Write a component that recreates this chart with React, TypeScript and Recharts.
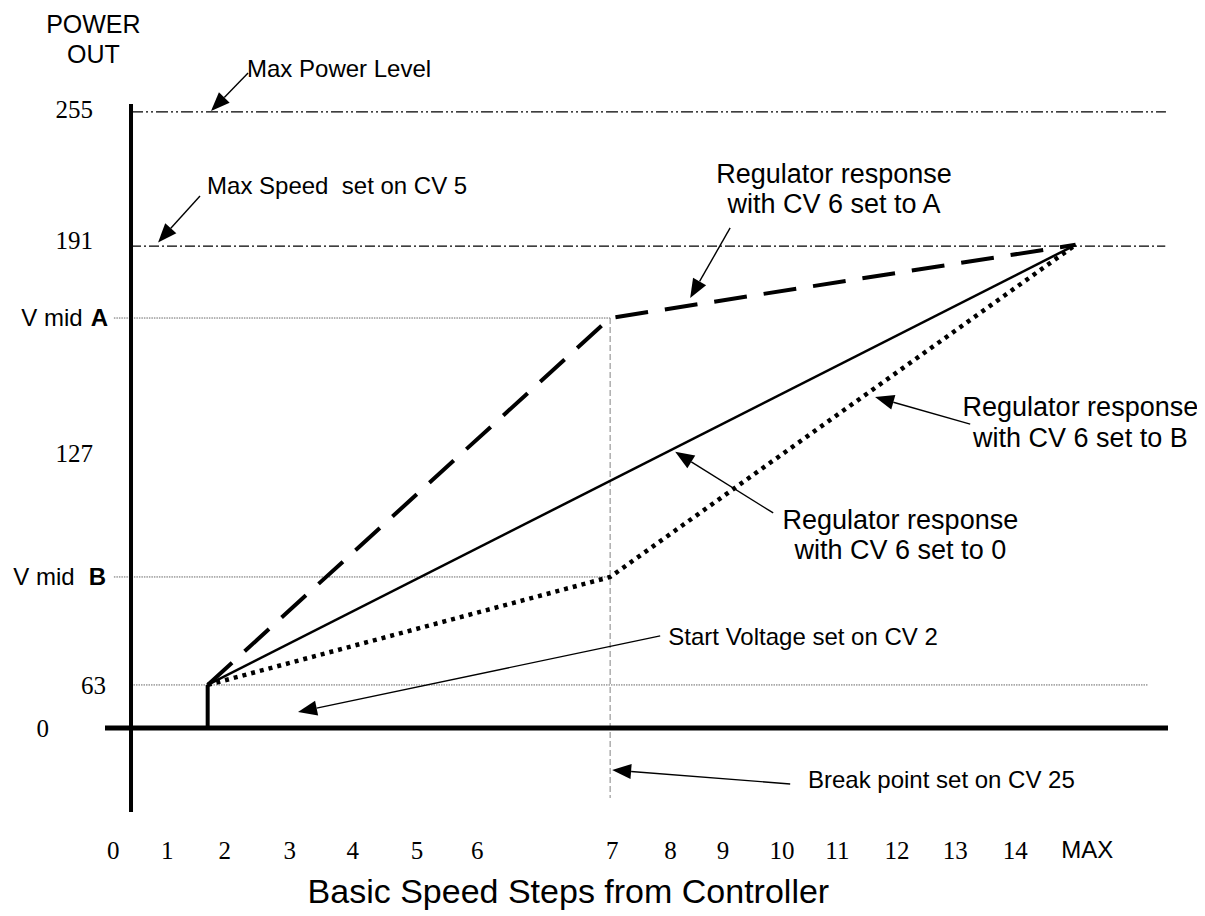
import React from "react";
import { LineChart, Line, XAxis, YAxis, ReferenceLine, ReferenceDot } from "recharts";

const SANS = "'Liberation Sans', Arial, sans-serif";
const SERIF = "'Liberation Serif', 'Times New Roman', serif";

// drawing units: x = speed steps (0 on the power axis, 7 at the break point)
// y = power (0 on the step axis, 255 on the max power line)
const stepsA = [1.12, 7, 13.8];
const powerA = [17.8, 169.7, 200];
const steps0 = [1.12, 13.8];
const power0 = [17.8, 200];
const stepsB = [1.12, 7, 13.8];
const powerB = [17.8, 62.5, 200];
const startSteps = [1.12, 1.12];
const startPower = [0, 17.8];

const maxPowerLevel = 255;
const maxSpeedLevel = 199.5;
const vMidALevel = 169.7;
const vMidBLevel = 62.5;
const startLevel = 17.8;
const breakStep = 7;

const xTickSteps = [-0.26, 0.53, 1.37, 2.32, 3.24, 4.18, 5.06, 7.03, 7.88, 8.65, 9.51, 10.32, 11.19, 12.04, 12.92, 13.97];
const xTickLabels = ["0", "1", "2", "3", "4", "5", "6", "7", "8", "9", "10", "11", "12", "13", "14", "MAX"];
const yTickLevels = [0, 17.8, 62.5, 113.8, 169.7, 202, 256];
const yTickLabels = ["0", "63", "V mid B", "127", "V mid A", "191", "255"];

const toRows = (steps: number[], power: number[]) =>
  steps.map((s, i) => ({ step: s, power: power[i] }));

// distance from the power axis to the right end of each y label
const yLabelGap: Record<string, number> = { "0": 56, "63": -1, "V mid A": -3, "V mid B": -1 };

const XTick = (props: any) => {
  const { x, y, payload } = props;
  const idx = xTickSteps.indexOf(payload.value);
  const label = idx >= 0 ? xTickLabels[idx] : String(payload.value);
  const word = label === "MAX";
  return (
    <text x={x} y={y + 38} dy="0.35em" textAnchor="middle" fontFamily={word ? SANS : SERIF} fontSize={word ? 24 : 25} fill="#000">
      {label}
    </text>
  );
};

const YTick = (props: any) => {
  const { x, y, payload } = props;
  const idx = yTickLevels.indexOf(payload.value);
  const label = idx >= 0 ? yTickLabels[idx] : String(payload.value);
  const gap = yLabelGap[label] ?? 12;
  if (label.startsWith("V mid")) {
    const letter = label.slice(-1);
    return (
      <text x={x - gap} y={y} dy="0.35em" textAnchor="end" fontFamily={SANS} fontSize={24} fill="#000">
        <tspan>V mid</tspan>
        <tspan dx={letter === "B" ? 14 : 8} fontWeight="bold">{letter}</tspan>
      </text>
    );
  }
  return (
    <text x={x - gap} y={y} dy="0.35em" textAnchor="end" fontFamily={SERIF} fontSize={25} fill="#000">
      {label}
    </text>
  );
};

const Arrow = (p: any) => {
  const { x1, y1, x2, y2 } = p;
  const ang = Math.atan2(y2 - y1, x2 - x1);
  const len = 19;
  const half = 7.5;
  const bx = x2 - len * Math.cos(ang);
  const by = y2 - len * Math.sin(ang);
  const nx = -Math.sin(ang) * half;
  const ny = Math.cos(ang) * half;
  return (
    <g>
      <line x1={x1} y1={y1} x2={bx} y2={by} stroke="#000" strokeWidth={1.4} />
      <polygon points={`${x2},${y2} ${bx + nx},${by + ny} ${bx - nx},${by - ny}`} fill="#000" />
    </g>
  );
};

const notes = [
  { lines: ["POWER", "OUT"], step: -0.55, level: 291.4, anchor: "middle", size: 25, gap: 30 },
  { lines: ["Max Power Level"], step: 1.695, level: 272.8, anchor: "start", size: 24, gap: 0 },
  { lines: ["Max Speed\u00a0 set on CV 5"], step: 1.111, level: 224.4, anchor: "start", size: 24, gap: 0 },
  { lines: ["Regulator response", "with CV 6 set to A"], step: 10.27, level: 229.7, anchor: "middle", size: 27, gap: 30 },
  { lines: ["Regulator response", "with CV 6 set to B"], step: 13.87, level: 132.9, anchor: "middle", size: 27, gap: 31 },
  { lines: ["Regulator response", "with CV 6 set to 0"], step: 11.24, level: 86.1, anchor: "middle", size: 27, gap: 30 },
  { lines: ["Start Voltage set on CV 2"], step: 7.85, level: 37.7, anchor: "start", size: 24, gap: 0 },
  { lines: ["Break point set on CV 25"], step: 9.89, level: -21.5, anchor: "start", size: 24, gap: 0 },
  { lines: ["Basic Speed Steps from Controller"], step: 6.39, level: -67.5, anchor: "middle", size: 34, gap: 0 },
];

const arrows = [
  { from: { x: 1.71, y: 271.1 }, to: { x: 1.169, y: 255.4 } },
  { from: { x: 1.008, y: 220.2 }, to: { x: 0.395, y: 201.0 } },
  { from: { x: 8.753, y: 207.0 }, to: { x: 8.169, y: 178.0 } },
  { from: { x: 12.26, y: 125.8 }, to: { x: 10.87, y: 137.0 } },
  { from: { x: 9.382, y: 89.0 }, to: { x: 7.95, y: 114.3 } },
  { from: { x: 7.731, y: 38.1 }, to: { x: 2.44, y: 6.6 } },
  { from: { x: 9.63, y: -23.2 }, to: { x: 7.029, y: -17.4 } },
];

const noteShape = (n: (typeof notes)[number]) => (p: any) => (
  <text x={p.cx} y={p.cy} textAnchor={n.anchor as any} fontFamily={SANS} fontSize={n.size} fill="#000">
    {n.lines.map((t, i) => (
      <tspan key={i} x={p.cx} dy={i === 0 ? "0.35em" : n.gap}>
        {t}
      </tspan>
    ))}
  </text>
);

export default function App() {
  return (
    <div style={{ width: 1189, height: 908 }}>
      <LineChart width={1189} height={908} margin={{ top: 96, right: 29, bottom: 44, left: 37 }}>
        <XAxis
          type="number"
          dataKey="step"
          domain={[-0.38, 15.15]}
          ticks={xTickSteps}
          interval={0}
          allowDataOverflow
          axisLine={false}
          tickLine={false}
          tickSize={0}
          tickMargin={0}
          height={60}
          tick={<XTick />}
        />
        <YAxis
          type="number"
          dataKey="power"
          domain={[-34.8, 258.3]}
          ticks={yTickLevels}
          interval={0}
          allowDataOverflow
          axisLine={false}
          tickLine={false}
          tickSize={0}
          tickMargin={0}
          width={60}
          tick={<YTick />}
        />

        <ReferenceLine
          segment={[{ x: 0, y: maxPowerLevel }, { x: 15.12, y: maxPowerLevel }]}
          stroke="#000"
          strokeWidth={1.3}
          strokeDasharray="12 3 2 3 2 3"
        />
        <ReferenceLine
          segment={[{ x: 0, y: maxSpeedLevel }, { x: 15.11, y: maxSpeedLevel }]}
          stroke="#000"
          strokeWidth={1.2}
          strokeDasharray="10 3 2 3"
        />
        <ReferenceLine
          segment={[{ x: -0.25, y: vMidALevel }, { x: breakStep, y: vMidALevel }]}
          stroke="#666"
          strokeWidth={1}
          strokeDasharray="1.5 1"
        />
        <ReferenceLine
          segment={[{ x: -0.25, y: vMidBLevel }, { x: breakStep, y: vMidBLevel }]}
          stroke="#666"
          strokeWidth={1}
          strokeDasharray="1.5 1"
        />
        <ReferenceLine
          segment={[{ x: 0, y: startLevel }, { x: 14.85, y: startLevel }]}
          stroke="#666"
          strokeWidth={1}
          strokeDasharray="1.5 1"
        />
        <ReferenceLine
          segment={[{ x: breakStep, y: vMidALevel }, { x: breakStep, y: -29 }]}
          stroke="#999"
          strokeWidth={1.2}
          strokeDasharray="6 3"
        />
        <ReferenceLine x={0} stroke="#000" strokeWidth={4} />
        <ReferenceLine y={0} stroke="#000" strokeWidth={5} />

        <Line
          data={toRows(stepsA, powerA)}
          dataKey="power"
          stroke="#000"
          strokeWidth={4}
          strokeDasharray="33 17"
          dot={false}
          activeDot={false}
          isAnimationActive={false}
        />
        <Line
          data={toRows(steps0, power0)}
          dataKey="power"
          stroke="#000"
          strokeWidth={2.5}
          dot={false}
          activeDot={false}
          isAnimationActive={false}
        />
        <Line
          data={toRows(stepsB, powerB)}
          dataKey="power"
          stroke="#000"
          strokeWidth={4.5}
          strokeDasharray="4 5"
          dot={false}
          activeDot={false}
          isAnimationActive={false}
        />
        <Line
          data={toRows(startSteps, startPower)}
          dataKey="power"
          stroke="#000"
          strokeWidth={4}
          dot={false}
          activeDot={false}
          isAnimationActive={false}
        />

        {arrows.map((a, i) => (
          <ReferenceLine key={`a${i}`} segment={[a.from, a.to]} ifOverflow="visible" shape={Arrow} />
        ))}
        {notes.map((n, i) => (
          <ReferenceDot key={`n${i}`} x={n.step} y={n.level} r={0} ifOverflow="visible" shape={noteShape(n)} />
        ))}
      </LineChart>
    </div>
  );
}
